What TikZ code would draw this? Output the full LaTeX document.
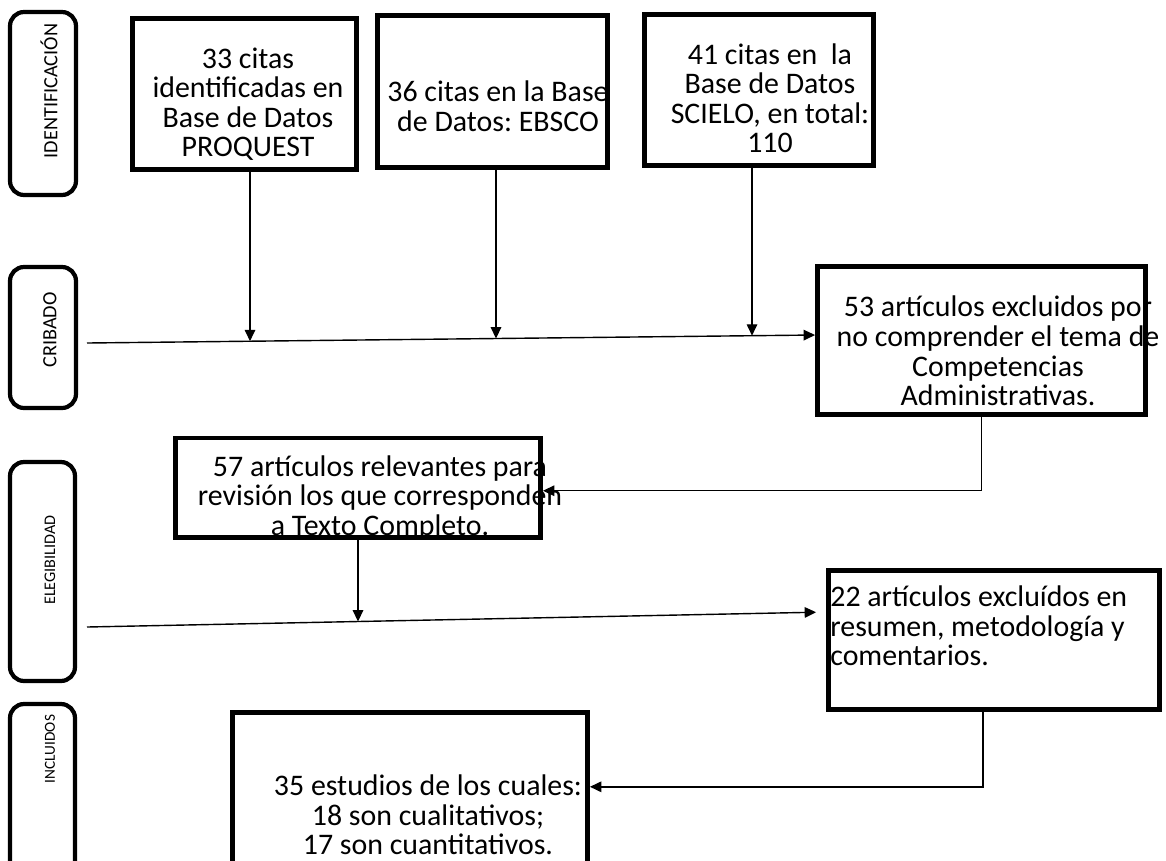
\documentclass[tikz,border=0pt]{standalone}
\usepackage{fontspec}
\setmainfont{Carlito}
\usetikzlibrary{arrows.meta}
\usetikzlibrary{calc,intersections}
\frenchspacing

\begin{document}
\begin{tikzpicture}[x=0.02cm,y=-0.02cm,>={Triangle[length=6.5pt,width=6pt]},
	phase/.style={draw,line width=2.4pt,rounded corners=0.28cm,inner sep=0pt},
	phasetxt/.style={rotate=90,inner sep=0pt},
	box/.style={draw,line width=2.8pt,inner sep=0pt},
	boxtxt/.style={inner sep=0pt,align=center,font=\fontsize{17}{16.8}\selectfont},
	conn/.style={->,line width=0.8pt}]

	\useasboundingbox (0,0) rectangle (1166,860);
	\clip (0,0) rectangle (1166,860);

	% Draw the phase labels on the left
	\node[phase,minimum width=1.32cm,minimum height=3.66cm] (idbox) at (43,103.5) {};
	\node[phasetxt,font=\fontsize{11.5}{12}\selectfont] (idtxt) at (49,91) {IDENTIFICACIÓN};
	\node[phase,minimum width=1.32cm,minimum height=2.82cm] (crbox) at (43,337.5) {};
	\node[phasetxt,font=\fontsize{11.5}{12}\selectfont] (crtxt) at (50,330) {CRIBADO};
	\node[phase,minimum width=1.3cm,minimum height=4.38cm] (elbox) at (42.5,571.5) {};
	\node[phasetxt,font=\fontsize{9.2}{10}\selectfont] (eltxt) at (50,560) {ELEGIBILIDAD};
	\node[phase,minimum width=1.3cm,minimum height=3.92cm] (inbox) at (42.5,802) {};
	\node[phasetxt,font=\fontsize{8.7}{9}\selectfont] (intxt) at (50,749) {INCLUIDOS};

	% Draw the three data bases
	\node[box,minimum width=4.48cm,minimum height=3.02cm] (src1) at (244.5,94) {};
	\node[boxtxt] (src1txt) at (248,104) {33 citas\\identificadas en\\Base de Datos\\PROQUEST};
	\node[box,minimum width=4.6cm,minimum height=3.04cm] (src2) at (492.5,91.5) {};
	\node[boxtxt] (src2txt) at (498,106) {36 citas en la Base\\de Datos: EBSCO};
	\node[box,minimum width=4.58cm,minimum height=3.02cm] (src3) at (759,90) {};
	\node[boxtxt] (src3txt) at (770,98) {41 citas en~ la\\Base de Datos\\SCIELO, en total:\\110};

	% Draw the excluded and kept articles
	\node[box,minimum width=6.56cm,minimum height=2.96cm] (excl1) at (981.5,340.5) {};
	\node[boxtxt] (excl1txt) at (998,351) {53 artículos excluidos por\\no comprender el tema de\\Competencias\\Administrativas.};
	\node[box,minimum width=7.3cm,minimum height=1.99cm] (rel) at (358,487.75) {};
	\node[boxtxt] (reltxt) at (380,498) {57 artículos relevantes para\\revisión los que corresponden\\a Texto Completo.};
	\node[box,minimum width=6.62cm,minimum height=2.78cm] (excl2) at (994,640) {};
	\node[boxtxt,align=left,anchor=west] (excl2txt) at (830,626) {22 artículos excluídos en\\resumen, metodología y\\comentarios.};
	\node[box,minimum width=7.1cm,minimum height=3.75cm] (incl) at (410,806) {};
	\node[boxtxt] (incltxt) at (428,815) {35 estudios de los cuales:\\18 son cualitativos;\\17 son cuantitativos.};

	% Draw the screening line and the drops onto it
	\coordinate (cribL) at (87,343);
	\coordinate (cribR) at ([yshift=0.11cm]excl1.west);
	\draw[conn,name path=cribline] (cribL) -- (cribR);
	\foreach \s/\dx in {src1/0.11,src2/0.07,src3/-0.14}{
		\path[name path=drop] ([xshift=\dx cm]\s.south) -- ++(0,-5cm);
		\draw[conn,name intersections={of=drop and cribline}] ([xshift=\dx cm]\s.south) -- (intersection-1);
	}
	\draw[conn] (excl1.south) |- ([yshift=-0.06cm]rel.east);

	% Draw the eligibility line
	\coordinate (eligL) at (87,627);
	\draw[conn,name path=eligline,shorten >=0.2cm] (eligL) -- ([yshift=0.56cm]excl2.west);
	\path[name path=drop2] (rel.south) -- ++(0,-5cm);
	\draw[conn,name intersections={of=drop2 and eligline}] (rel.south) -- (intersection-1);
	\draw[conn] ([xshift=-0.22cm]excl2.south) |- ([yshift=-1.54cm]incl.north east);

\end{tikzpicture}
\end{document}
